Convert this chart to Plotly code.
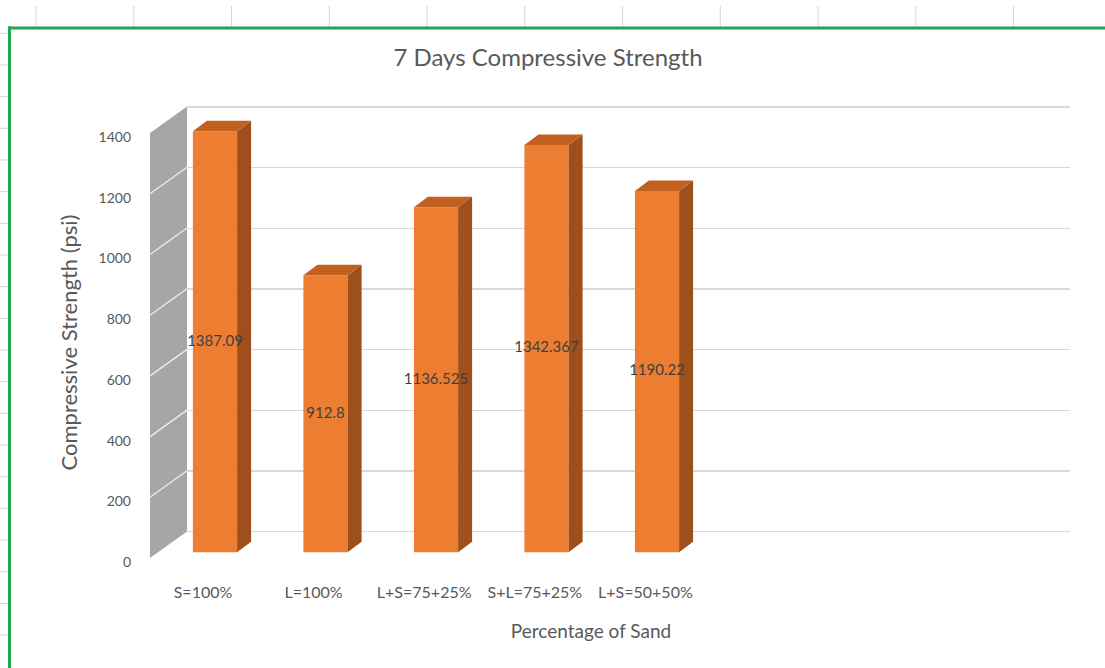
import plotly.graph_objects as go

# ---------------- data ----------------
categories = ["S=100%", "L=100%", "L+S=75+25%", "S+L=75+25%", "L+S=50+50%"]
strength = [1387.09, 912.8, 1136.525, 1342.367, 1190.22]
value_labels = ["1387.09", "912.8", "1136.525", "1342.367", "1190.22"]
y_ticks = [0, 200, 400, 600, 800, 1000, 1200, 1400]
title_text = "7 Days Compressive Strength"
y_title = "Compressive Strength (psi)"
x_title = "Percentage of Sand"

# ---------------- page geometry (pixels) ----------------
W, H = 1105, 668


def fx(x):
    return x / W


def fy(y):
    return 1 - y / H


FONT = "Lato, Carlito, Calibri, sans-serif"
TXT = "#595959"

# bars (front face) plane
BX0, BDX = 215.0, 110.5      # px of category 0 centre, px per category
BY0, SCALE = 552.3, 0.3035   # px of value 0, px per unit
HALF = 0.2                   # half bar width in category units
DDX = 14.0 / BDX             # bar depth (x)
DDY = 10.5 / SCALE           # bar depth (y)

# back wall plane
WY0, WSCALE = 531.5, 0.3032
WALL_X0, WALL_X1 = 187.0, 1070.0

# side wall (front / back edge) in bar-axis units
wall_xf = (150.0 - BX0) / BDX
wall_xb = (187.0 - BX0) / BDX
wall_fb = (BY0 - 558.0) / SCALE
wall_bb = (BY0 - WY0) / SCALE

# tick-label plane
TY0 = 562.0
TICK_X = 132.0

# category label plane
CX0, CDX = 203.0, 110.6
CAT_L, CAT_R = 112.0, 1070.0
CAT_Y = 581.0

fig = go.Figure()

# --- subplot 1: back wall gridlines ---
fig.add_trace(go.Scatter(x=[0], y=[y_ticks[0]], mode="markers",
                         marker=dict(opacity=0), hoverinfo="skip",
                         showlegend=False, xaxis="x", yaxis="y"))

# --- subplot 2: 3D bars ---
xs = list(range(len(categories)))

# side wall polygon
top = y_ticks[-1]
fig.add_trace(go.Scatter(
    x=[wall_xf, wall_xb, wall_xb, wall_xf, wall_xf],
    y=[wall_fb, wall_bb, top + wall_bb, top + wall_fb, wall_fb],
    mode="lines", fill="toself", fillcolor="#A6A6A6",
    line=dict(width=0, color="#A6A6A6"), hoverinfo="skip",
    showlegend=False, xaxis="x2", yaxis="y2"))
# white gridlines across the side wall
gx, gy = [], []
for g in y_ticks[1:-1]:
    gx += [wall_xf, wall_xb, None]
    gy += [g + wall_fb, g + wall_bb, None]
fig.add_trace(go.Scatter(x=gx, y=gy, mode="lines",
                         line=dict(color="#EDEDED", width=1.3),
                         hoverinfo="skip", showlegend=False,
                         xaxis="x2", yaxis="y2"))

fig.add_trace(go.Bar(x=xs, y=strength, width=2 * HALF,
                     marker=dict(color="#ED7D31", line=dict(width=0)),
                     hoverinfo="skip", showlegend=False,
                     xaxis="x2", yaxis="y2"))

sx, sy, tx, ty = [], [], [], []
for i, v in zip(xs, strength):
    sx += [i + HALF, i + HALF + DDX, i + HALF + DDX, i + HALF, i + HALF, None]
    sy += [0, DDY, v + DDY, v, 0, None]
    tx += [i - HALF, i - HALF + DDX, i + HALF + DDX, i + HALF, i - HALF, None]
    ty += [v, v + DDY, v + DDY, v, v, None]
fig.add_trace(go.Scatter(x=sx, y=sy, mode="lines", fill="toself",
                         fillcolor="#9E4F1B", line=dict(width=0, color="#9E4F1B"),
                         hoverinfo="skip", showlegend=False,
                         xaxis="x2", yaxis="y2"))
fig.add_trace(go.Scatter(x=tx, y=ty, mode="lines", fill="toself",
                         fillcolor="#C2611F", line=dict(width=0, color="#C2611F"),
                         hoverinfo="skip", showlegend=False,
                         xaxis="x2", yaxis="y2"))

fig.add_trace(go.Scatter(x=xs, y=[v / 2 for v in strength], text=value_labels,
                         mode="text", textposition="middle center",
                         textfont=dict(family=FONT, size=15, color="#404040"),
                         hoverinfo="skip", showlegend=False,
                         xaxis="x2", yaxis="y2"))

# --- subplot 3: value tick labels ---
fig.add_trace(go.Scatter(x=[0] * len(y_ticks), y=y_ticks, mode="markers",
                         marker=dict(opacity=0), hoverinfo="skip",
                         showlegend=False, xaxis="x3", yaxis="y3"))

# --- subplot 4: category labels + x title ---
fig.add_trace(go.Scatter(x=xs, y=[0] * len(xs), mode="markers",
                         marker=dict(opacity=0), hoverinfo="skip",
                         showlegend=False, xaxis="x4", yaxis="y4"))

hidden = dict(visible=False, fixedrange=True)

fig.update_layout(
    width=W, height=H,
    margin=dict(l=0, r=0, t=0, b=0),
    paper_bgcolor="white", plot_bgcolor="rgba(0,0,0,0)",
    showlegend=False, hovermode=False,
    font=dict(family=FONT, color=TXT),
    title=dict(text=title_text, x=548 / W, xanchor="center",
               y=fy(58), yanchor="middle", yref="container",
               font=dict(family=FONT, size=24, color=TXT)),
    # subplot 1: back wall
    xaxis=dict(domain=[fx(WALL_X0), fx(WALL_X1)], range=[0, 1], **hidden),
    yaxis=dict(domain=[0, 1], anchor="x",
               range=[(WY0 - H) / WSCALE, WY0 / WSCALE],
               tickvals=y_ticks, showticklabels=False, ticks="",
               showgrid=True, gridcolor="#D9D9D9", gridwidth=1.3,
               zeroline=False, showline=False, fixedrange=True),
    # subplot 2: bars
    xaxis2=dict(domain=[0, 1], anchor="y2",
                range=[(0 - BX0) / BDX, (W - BX0) / BDX], **hidden),
    yaxis2=dict(domain=[0, 1], anchor="x2",
                range=[(BY0 - H) / SCALE, BY0 / SCALE], **hidden),
    # subplot 3: value ticks
    xaxis3=dict(domain=[fx(TICK_X), fx(WALL_X1)], anchor="y3", range=[0, 1],
                **hidden),
    yaxis3=dict(domain=[0, 1], anchor="x3",
                range=[(TY0 - H) / SCALE, TY0 / SCALE],
                tickvals=y_ticks, ticktext=[str(t) for t in y_ticks],
                ticks="", showgrid=False, zeroline=False, showline=False,
                tickfont=dict(family=FONT, size=14, color=TXT),
                fixedrange=True),
    # subplot 4: categories
    xaxis4=dict(domain=[fx(CAT_L), fx(CAT_R)], anchor="y4",
                range=[(CAT_L - CX0) / CDX, (CAT_R - CX0) / CDX],
                tickvals=xs, ticktext=categories, ticks="",
                showgrid=False, zeroline=False, showline=False,
                tickfont=dict(family=FONT, size=16, color=TXT),
                title=dict(text=x_title, standoff=24,
                           font=dict(family=FONT, size=19, color=TXT)),
                fixedrange=True),
    yaxis4=dict(domain=[fy(CAT_Y), 1], anchor="x4", range=[0, 1], **hidden),
    annotations=[dict(text=y_title, textangle=-90, showarrow=False,
                      xref="paper", yref="paper", x=fx(67.5), y=fy(343),
                      xanchor="center", yanchor="middle",
                      font=dict(family=FONT, size=22, color=TXT))],
)

# ---------------- worksheet decoration ----------------
shapes = []
for k in range(11):
    x = 36 + 97.75 * k
    shapes.append(dict(type="line", xref="paper", yref="paper",
                       x0=fx(x), x1=fx(x), y0=fy(6), y1=fy(27),
                       line=dict(color="#D4D4D4", width=1)))
for k in range(20):
    y = 33.3 + 31.67 * k
    shapes.append(dict(type="line", xref="paper", yref="paper",
                       x0=0, x1=fx(8), y0=fy(y), y1=fy(y),
                       line=dict(color="#D4D4D4", width=1)))
# chart selection border (green)
shapes.append(dict(type="line", xref="paper", yref="paper",
                   x0=fx(8), x1=1, y0=fy(28), y1=fy(28),
                   line=dict(color="#22A459", width=3)))
shapes.append(dict(type="line", xref="paper", yref="paper",
                   x0=fx(9.5), x1=fx(9.5), y0=fy(26.5), y1=0,
                   line=dict(color="#22A459", width=3)))
fig.update_layout(shapes=shapes)

fig.write_html("out.html", config=dict(displayModeBar=False, staticPlot=True))
